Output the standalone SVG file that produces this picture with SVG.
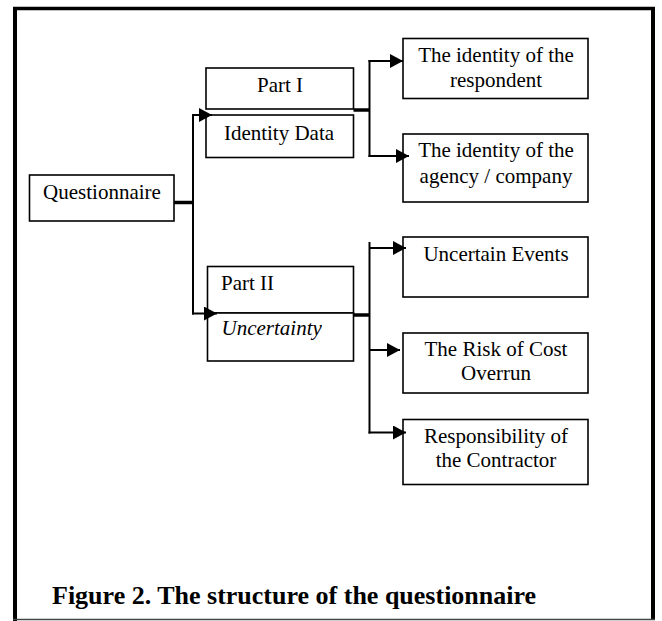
<svg xmlns="http://www.w3.org/2000/svg" width="662" height="621" viewBox="0 0 662 621">
<defs>
<style>
.box{fill:#fff;stroke:#000;stroke-width:1.6}
.t{font-family:"Liberation Serif","Times New Roman",serif;font-size:21px;fill:#000}
.c{text-anchor:middle}
.i{font-style:italic}
.ln{fill:none;stroke:#000;stroke-width:2}
.thick{fill:none;stroke:#000;stroke-width:3.5}
.cap{font-family:"Liberation Serif","Times New Roman",serif;font-size:26px;font-weight:bold;fill:#000}
</style>
<marker id="ah" markerUnits="userSpaceOnUse" markerWidth="14" markerHeight="15" refX="13" refY="7" orient="auto">
<path d="M0,0 L13,7 L0,14 z" fill="#000"/>
</marker>
</defs>
<rect width="662" height="621" fill="#fff"/>
<g id="frame">
<line x1="13" y1="8.5" x2="655" y2="8.5" stroke="#000" stroke-width="3.5"/>
<line x1="15" y1="7" x2="15" y2="621" stroke="#000" stroke-width="4"/>
<line x1="653" y1="7" x2="653" y2="620" stroke="#000" stroke-width="4"/>
<line x1="13" y1="619.5" x2="655" y2="619.5" stroke="#444" stroke-width="1.5"/>
</g>
<g id="n-questionnaire">
<rect class="box" x="29.5" y="175" width="144.5" height="46"/>
<text class="t c" x="102" y="199">Questionnaire</text>
</g>
<g id="n-part1">
<rect class="box" x="206" y="68" width="147.5" height="41"/>
<text class="t c" x="280" y="92">Part I</text>
</g>
<g id="n-identity-data">
<rect class="box" x="206" y="115" width="147.5" height="42.5"/>
<text class="t c" x="279" y="139.5">Identity Data</text>
</g>
<g id="n-part2">
<rect class="box" x="207.5" y="266.5" width="146" height="46.5"/>
<text class="t" x="221" y="289.5">Part II</text>
</g>
<g id="n-uncertainty">
<rect class="box" x="207.5" y="313" width="146" height="48"/>
<text class="t i" x="221.5" y="335">Uncertainty</text>
</g>
<g id="n-respondent">
<rect class="box" x="403" y="38.5" width="185" height="60"/>
<text class="t c" x="496" y="61.5">The identity of the</text>
<text class="t c" x="496" y="86.5">respondent</text>
</g>
<g id="n-agency">
<rect class="box" x="403" y="134" width="185" height="68"/>
<text class="t c" x="496" y="156.5">The identity of the</text>
<text class="t c" x="496" y="182.5">agency / company</text>
</g>
<g id="n-events">
<rect class="box" x="403" y="237" width="185" height="60"/>
<text class="t c" x="496" y="260.5">Uncertain Events</text>
</g>
<g id="n-risk">
<rect class="box" x="403" y="333" width="185" height="60"/>
<text class="t c" x="496" y="355.5">The Risk of Cost</text>
<text class="t c" x="496" y="380">Overrun</text>
</g>
<g id="n-responsibility">
<rect class="box" x="403" y="419.5" width="185" height="65"/>
<text class="t c" x="496" y="442.5">Responsibility of</text>
<text class="t c" x="496" y="466.5">the Contractor</text>
</g>
<g id="connectors">
<line class="thick" x1="174" y1="202.5" x2="193" y2="202.5"/>
<line class="ln" x1="193" y1="114" x2="193" y2="314.5"/>
<line class="ln" x1="192" y1="115" x2="212" y2="115" marker-end="url(#ah)"/>
<line class="ln" x1="192" y1="313.5" x2="217" y2="313.5" marker-end="url(#ah)"/>
<line class="thick" x1="353.5" y1="110" x2="370" y2="110"/>
<line class="ln" x1="369.5" y1="60" x2="369.5" y2="157"/>
<line class="ln" x1="368.5" y1="61" x2="403" y2="61" marker-end="url(#ah)"/>
<line class="ln" x1="368.5" y1="156" x2="409" y2="156" marker-end="url(#ah)"/>
<line class="thick" x1="353.5" y1="315" x2="370" y2="315"/>
<line class="ln" x1="369.5" y1="242" x2="369.5" y2="433.5"/>
<line class="ln" x1="369.5" y1="248" x2="406" y2="248" marker-end="url(#ah)"/>
<line class="ln" x1="369.5" y1="350" x2="400" y2="350" marker-end="url(#ah)"/>
<line class="ln" x1="368.5" y1="432.5" x2="406" y2="432.5" marker-end="url(#ah)"/>
</g>
<text class="cap" x="52" y="604">Figure 2. The structure of the questionnaire</text>
</svg>
